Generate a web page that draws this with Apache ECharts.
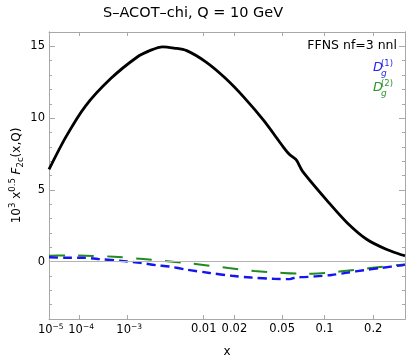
<!DOCTYPE html>
<html>
<head>
<meta charset="utf-8">
<script src="https://cdn.jsdelivr.net/npm/echarts@6/dist/echarts.min.js"></script>
<style>
html, body { margin: 0; padding: 0; background: #fff; }
#main { width: 407px; height: 363px; }
</style>
</head>
<body>
<div id="main"></div>
<script>
// F2c (FFNS nf=3 nnl)
var xF2c = [1e-5, 4.1e-5, 1.43e-4, 5.1e-4, 1.42e-3, 2.2e-3, 3.3e-3, 4.6e-3, 6.5e-3, 0.0106, 0.0165, 0.0246, 0.0359, 0.0509, 0.0571, 0.0635, 0.0705, 0.106, 0.1405, 0.184, 0.237, 0.29, 0.3];
var yF2c = [6.42, 8.69, 10.84, 12.77, 14.24, 14.7, 14.97, 14.88, 14.7, 13.9, 12.77, 11.41, 9.82, 8.0, 7.44, 7.1, 6.31, 4.15, 2.68, 1.54, 0.86, 0.46, 0.40];
// D_g^(1)
var xD1 = [1e-5, 4.1e-5, 1.19e-4, 2.8e-4, 8.8e-4, 1.59e-3, 2.71e-3, 4.0e-3, 6.5e-3, 0.0115, 0.019, 0.0282, 0.0429, 0.0571, 0.0635, 0.0722, 0.0867, 0.1112, 0.1405, 0.176, 0.2187, 0.29, 0.3];
var yD1 = [0.3, 0.27, 0.27, 0.18, 0.03, -0.09, -0.25, -0.34, -0.56, -0.79, -0.99, -1.11, -1.2, -1.22, -1.1, -1.08, -1.03, -0.93, -0.77, -0.6, -0.45, -0.25, -0.21];
// D_g^(2)
var xD2 = [1e-5, 4e-5, 1.43e-4, 5.9e-4, 1.77e-3, 3.8e-3, 9e-3, 0.0176, 0.03, 0.0509, 0.0705, 0.0826, 0.128, 0.192, 0.279, 0.3];
var yD2 = [0.41, 0.42, 0.41, 0.34, 0.18, 0.03, -0.2, -0.45, -0.65, -0.79, -0.84, -0.84, -0.68, -0.45, -0.24, -0.2];

var xTicks = [1e-5, 1e-4, 1e-3, 0.01, 0.02, 0.05, 0.1, 0.2];
var xTickLabels = ['{pad|\u2002}{b|10}{sup|\u22125}', '{pad|\u2002}{b|10}{sup|\u22124}', '{pad|\u2002}{b|10}{sup|\u22123}', '0.01', '0.02', '0.05', '0.1', '0.2'];
var yMajor = [0, 5, 10, 15];
var yMinor = [-3, -2, -1, 1, 2, 3, 4, 6, 7, 8, 9, 11, 12, 13, 14];

var FONT = 'DejaVu Sans';
var frameColor = '#a8a8a8';

// x axis drawn on a x^0.2 scale
function sx(x) { return Math.pow(x, 0.2); }
function toPts(xs, ys) {
    var out = [];
    for (var i = 0; i < xs.length; i++) out.push([sx(xs[i]), ys[i]]);
    return out;
}
var xTickPos = xTicks.map(sx);

var chart = echarts.init(document.getElementById('main'));

// labelPos: which tick positions get a label on this axis (first label sits on its own
// axis so the overlap check does not drop it or its neighbour)
function xAxisOpt(pos, labelPos, drawLine, withName) {
    return {
        type: 'value',
        position: pos,
        min: sx(1e-5),
        max: sx(0.3),
        splitLine: { show: false },
        axisLine: { show: drawLine, onZero: false, lineStyle: { color: frameColor, width: 1 } },
        axisTick: { show: drawLine, inside: true, length: 4, customValues: xTickPos, lineStyle: { color: frameColor } },
        axisLabel: {
            show: labelPos.length > 0,
            customValues: labelPos,
            showMinLabel: true,
            showMaxLabel: true,
            margin: 4,
            fontFamily: FONT,
            fontSize: 11.5,
            color: '#000',
            formatter: function (v) {
                for (var i = 0; i < xTickPos.length; i++) {
                    if (Math.abs(xTickPos[i] - v) < 1e-6) return xTickLabels[i];
                }
                return '';
            },
            rich: {
                pad: { fontFamily: FONT, fontSize: 7 },
                b: { fontFamily: FONT, fontSize: 11.5, lineHeight: 15 },
                sup: { fontFamily: FONT, fontSize: 7.5, verticalAlign: 'top' }
            }
        },
        name: withName ? 'x' : '',
        nameLocation: 'middle',
        nameGap: 27,
        nameTextStyle: { fontFamily: FONT, fontSize: 12, color: '#000' }
    };
}

function yAxisOpt(pos, ticks, len, labels) {
    return {
        type: 'value',
        position: pos,
        min: -4,
        max: 16,
        splitLine: { show: false },
        axisLine: { show: true, onZero: false, lineStyle: { color: frameColor, width: 1 } },
        axisTick: { show: true, inside: true, length: len, customValues: ticks, lineStyle: { color: frameColor } },
        axisLabel: {
            show: labels,
            customValues: ticks,
            margin: 4,
            fontFamily: FONT,
            fontSize: 11.5,
            color: '#000'
        }
    };
}

var yName = {
    type: 'value', position: 'left', min: -4, max: 16,
    axisLine: { show: false }, axisTick: { show: false }, axisLabel: { show: false }, splitLine: { show: false },
    name: '{n|10}{sup|3}{n| x}{sup|0.5}{n| }{it|F}{sub|2c}{n|(x,Q)}',
    nameLocation: 'middle',
    nameGap: 24,
    nameRotate: 90,
    nameTextStyle: {
        rich: {
            n: { fontFamily: FONT, fontSize: 12, color: '#000', lineHeight: 17 },
            it: { fontFamily: FONT, fontSize: 12, fontStyle: 'italic', color: '#000', lineHeight: 17 },
            sup: { fontFamily: FONT, fontSize: 8.5, color: '#000', verticalAlign: 'top' },
            sub: { fontFamily: FONT, fontSize: 8.5, color: '#000', verticalAlign: 'bottom' }
        }
    }
};

chart.setOption({
    animation: false,
    backgroundColor: '#fff',
    title: {
        text: 'S\u2013ACOT\u2013chi, Q = 10 GeV',
        left: 98,
        top: 1,
        textStyle: { fontFamily: FONT, fontSize: 14.5, fontWeight: 'normal', color: '#000' }
    },
    grid: { left: 37, right: 2, top: 32, bottom: 36, containLabel: false },
    xAxis: [
        xAxisOpt('bottom', xTickPos.slice(1), true, true),
        xAxisOpt('top', [], true, false),
        xAxisOpt('bottom', xTickPos.slice(0, 1), false, false)
    ],
    yAxis: [
        yAxisOpt('left', yMajor, 6, true),
        yAxisOpt('left', yMinor, 3, false),
        yAxisOpt('right', yMajor, 6, false),
        yAxisOpt('right', yMinor, 3, false),
        yName
    ],
    graphic: [
        { type: 'text', right: 10, top: 39, style: { text: 'FFNS nf=3 nnl', font: '12.5px "DejaVu Sans"', fill: '#000' } },
        { type: 'text', x: 373, y: 68, style: { text: 'D', font: 'italic 13px "DejaVu Sans"', fill: '#2828ee', verticalAlign: 'middle' } },
        { type: 'text', x: 381, y: 74, style: { text: 'g', font: 'italic 9px "DejaVu Sans"', fill: '#2828ee', verticalAlign: 'middle' } },
        { type: 'text', x: 381, y: 63.5, style: { text: '(1)', font: '8.5px "DejaVu Sans"', fill: '#2828ee', verticalAlign: 'middle' } },
        { type: 'text', x: 373, y: 88, style: { text: 'D', font: 'italic 13px "DejaVu Sans"', fill: '#2a962a', verticalAlign: 'middle' } },
        { type: 'text', x: 381, y: 94, style: { text: 'g', font: 'italic 9px "DejaVu Sans"', fill: '#2a962a', verticalAlign: 'middle' } },
        { type: 'text', x: 381, y: 83.5, style: { text: '(2)', font: '8.5px "DejaVu Sans"', fill: '#2a962a', verticalAlign: 'middle' } }
    ],
    series: [
        {
            name: 'D_g^(2)',
            type: 'line',
            data: toPts(xD2, yD2),
            showSymbol: false,
            smooth: 0.3,
            lineStyle: { color: '#218a21', width: 2, type: [16, 13] },
            markLine: {
                silent: true,
                symbol: 'none',
                label: { show: false },
                lineStyle: { color: '#b4b4b4', width: 1, type: 'solid' },
                data: [{ yAxis: 0 }]
            },
            z: 3
        },
        {
            name: 'D_g^(1)',
            type: 'line',
            data: toPts(xD1, yD1),
            showSymbol: false,
            smooth: 0.3,
            lineStyle: { color: '#1515f0', width: 2.4, type: [9, 5] },
            z: 4
        },
        {
            name: 'F2c',
            type: 'line',
            data: toPts(xF2c, yF2c),
            showSymbol: false,
            smooth: 0.3,
            lineStyle: { color: '#000', width: 2.8 },
            z: 5
        }
    ]
});
</script>
</body>
</html>
